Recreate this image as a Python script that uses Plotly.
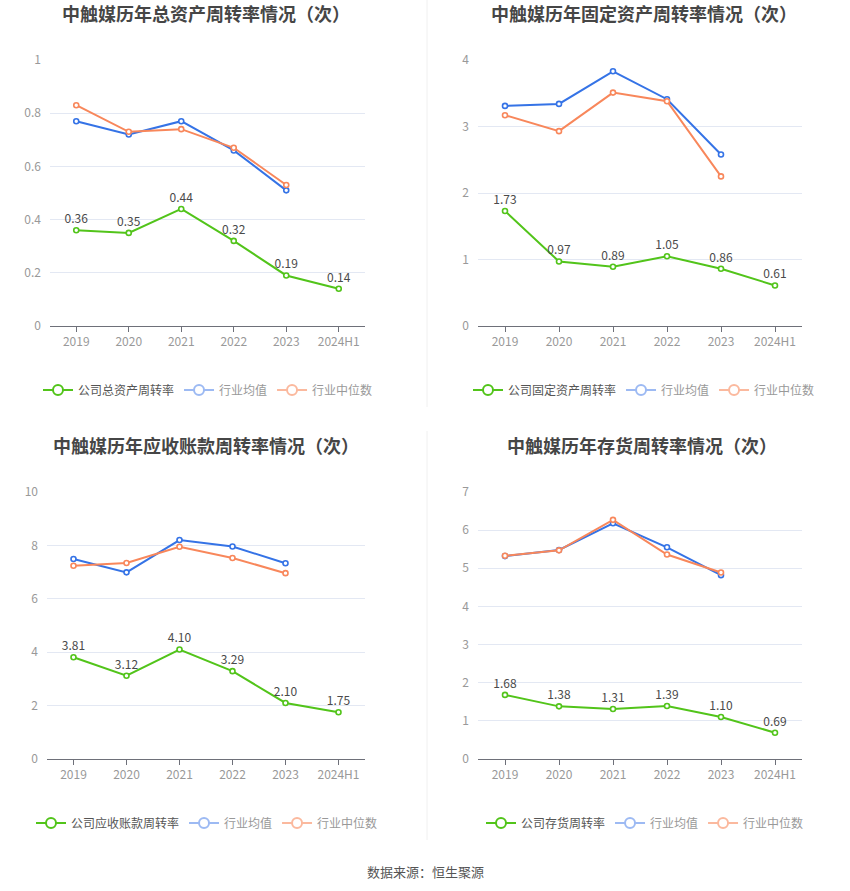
import plotly.graph_objects as go

years = ["2019", "2020", "2021", "2022", "2023", "2024H1"]

# 总资产周转率
total_company = [0.36, 0.35, 0.44, 0.32, 0.19, 0.14]
total_avg = [0.77, 0.72, 0.77, 0.66, 0.51]
total_median = [0.83, 0.73, 0.74, 0.67, 0.53]

# 固定资产周转率
fixed_company = [1.73, 0.97, 0.89, 1.05, 0.86, 0.61]
fixed_avg = [3.31, 3.34, 3.83, 3.41, 2.58]
fixed_median = [3.17, 2.93, 3.51, 3.38, 2.25]

# 应收账款周转率
recv_company = [3.81, 3.12, 4.10, 3.29, 2.10, 1.75]
recv_avg = [7.49, 6.99, 8.20, 7.96, 7.33]
recv_median = [7.24, 7.34, 7.95, 7.53, 6.96]

# 存货周转率
inv_company = [1.68, 1.38, 1.31, 1.39, 1.10, 0.69]
inv_avg = [5.32, 5.48, 6.18, 5.55, 4.82]
inv_median = [5.33, 5.47, 6.27, 5.36, 4.89]

titles = [
    "中触媒历年总资产周转率情况（次）",
    "中触媒历年固定资产周转率情况（次）",
    "中触媒历年应收账款周转率情况（次）",
    "中触媒历年存货周转率情况（次）",
]
company_names = ["公司总资产周转率", "公司固定资产周转率", "公司应收账款周转率", "公司存货周转率"]

GREEN = "#52c41a"
BLUE = "#3573e6"
ORANGE = "#f8875b"
FONT = "Noto Sans CJK SC"

panels = [
    dict(comp=total_company, avg=total_avg, med=total_median, rng=[0, 1], dtick=0.2,
         xd=[50 / 850, 365 / 850], yd=[1 - 326 / 891, 1 - 60 / 891], lx=208, ly=390, tx=206, ty=13),
    dict(comp=fixed_company, avg=fixed_avg, med=fixed_median, rng=[0, 4], dtick=1,
         xd=[478 / 850, 802 / 850], yd=[1 - 326 / 891, 1 - 60 / 891], lx=644, ly=390, tx=644, ty=13),
    dict(comp=recv_company, avg=recv_avg, med=recv_median, rng=[0, 10], dtick=2,
         xd=[47 / 850, 365 / 850], yd=[1 - 759 / 891, 1 - 492 / 891], lx=207, ly=823, tx=206, ty=445),
    dict(comp=inv_company, avg=inv_avg, med=inv_median, rng=[0, 7], dtick=1,
         xd=[478 / 850, 802 / 850], yd=[1 - 759 / 891, 1 - 492 / 891], lx=645, ly=823, tx=642, ty=445),
]

fig = go.Figure()
layout = {}
annotations = []

for i, p in enumerate(panels):
    n = "" if i == 0 else str(i + 1)
    xa, ya = "x" + n, "y" + n
    lg = "legend" + n

    def marker(c):
        return dict(size=5, color="white", line=dict(color=c, width=1.6))

    fig.add_trace(go.Scatter(
        x=years[:len(p["avg"])], y=p["avg"], mode="lines+markers", xaxis=xa, yaxis=ya,
        line=dict(color=BLUE, width=2), marker=marker(BLUE), showlegend=False, hoverinfo="x+y"))
    fig.add_trace(go.Scatter(
        x=years[:len(p["med"])], y=p["med"], mode="lines+markers", xaxis=xa, yaxis=ya,
        line=dict(color=ORANGE, width=2), marker=marker(ORANGE), showlegend=False, hoverinfo="x+y"))
    fig.add_trace(go.Scatter(
        x=years, y=p["comp"], mode="lines+markers+text", xaxis=xa, yaxis=ya,
        text=["%.2f" % v for v in p["comp"]], textposition="top center",
        textfont=dict(size=12, color="#4a4a4a", family=FONT),
        line=dict(color=GREEN, width=2), marker=marker(GREEN), showlegend=False, hoverinfo="x+y"))

    # legend entries
    for name, col in [
        (company_names[i], GREEN),
        ("<span style='color:#999'>行业均值</span>", "#9dbaf3"),
        ("<span style='color:#999'>行业中位数</span>", "#fbb99e"),
    ]:
        fig.add_trace(go.Scatter(
            x=[None], y=[None], mode="lines+markers", name=name, legend=lg,
            xaxis=xa, yaxis=ya,
            line=dict(color=col, width=2),
            marker=dict(size=10, color="white", line=dict(color=col, width=2))))

    layout["xaxis" + n] = dict(
        domain=p["xd"], anchor=ya, type="category", range=[-0.5, len(years) - 0.5],
        showgrid=False, automargin=False,
        showline=True, linecolor="#6e7079", linewidth=1,
        ticks="outside", ticklen=5, tickcolor="#6e7079",
        tickfont=dict(size=12, color="#999", family=FONT), fixedrange=True)
    layout["yaxis" + n] = dict(
        domain=p["yd"], anchor=xa, range=p["rng"], dtick=p["dtick"], automargin=False,
        showgrid=True, gridcolor="#e3e8f3", gridwidth=1, zeroline=False,
        showline=False, ticks="", ticklabelstandoff=8,
        tickfont=dict(size=12, color="#999", family=FONT), fixedrange=True)
    layout[lg] = dict(
        orientation="h", x=p["lx"] / 850, xanchor="center", y=1 - p["ly"] / 891, yanchor="middle",
        font=dict(size=12, color="#555", family=FONT), itemwidth=30,
        bgcolor="rgba(0,0,0,0)", tracegroupgap=0, itemclick=False, itemdoubleclick=False)

    annotations.append(dict(
        text="<b>" + titles[i] + "</b>", xref="paper", yref="paper",
        x=p["tx"] / 850, y=1 - p["ty"] / 891, xanchor="center", yanchor="middle",
        showarrow=False, font=dict(size=18, color="#464646", family=FONT)))

annotations.append(dict(
    text="数据来源：恒生聚源", xref="paper", yref="paper", x=0.5, y=1 - 871 / 891,
    xanchor="center", yanchor="middle", showarrow=False,
    font=dict(size=13, color="#555", family=FONT)))

shapes = [
    dict(type="line", xref="paper", yref="paper", x0=427 / 850, x1=427 / 850,
         y0=1 - 407 / 891, y1=1, line=dict(color="#f0f0f0", width=1)),
    dict(type="line", xref="paper", yref="paper", x0=427 / 850, x1=427 / 850,
         y0=1 - 840 / 891, y1=1 - 431 / 891, line=dict(color="#f0f0f0", width=1)),
]

fig.update_layout(
    template="none",
    width=850, height=891, margin=dict(l=0, r=0, t=0, b=0, autoexpand=False),
    paper_bgcolor="white", plot_bgcolor="white",
    font=dict(family=FONT), annotations=annotations, shapes=shapes,
    **layout)

# page body has a default 8px margin; drop it so the figure sits at the window origin
fig.write_html("out.html", config={"displayModeBar": False},
               post_script="document.body.style.margin = '0';")
